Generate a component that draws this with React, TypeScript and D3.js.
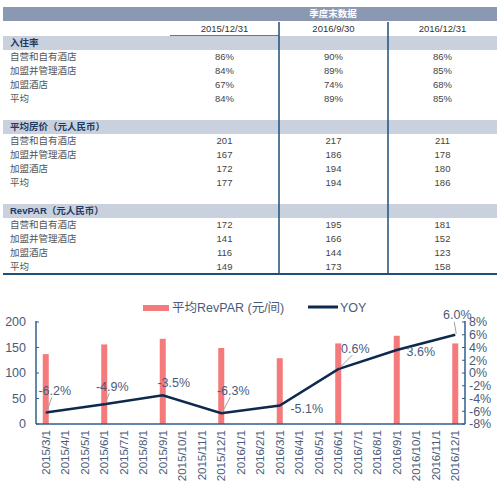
import { useEffect, useRef } from "react"
import * as d3 from "d3"

// table data
const columns = ["2015/12/31", "2016/9/30", "2016/12/31"]
const rowLabels = ["自营和自有酒店", "加盟并管理酒店", "加盟酒店", "平均"]
const occupancy = ["86%", "90%", "86%", "84%", "89%", "85%", "67%", "74%", "68%", "84%", "89%", "85%"]
const adr = [201, 217, 211, 167, 186, 178, 172, 194, 180, 177, 194, 186]
const revpar = [172, 195, 181, 141, 166, 152, 116, 144, 123, 149, 173, 158]
const sections = ["入住率", "平均房价（元人民币）", "RevPAR（元人民币）"]

// chart data
const months = [
  "2015/3/1", "2015/4/1", "2015/5/1", "2015/6/1", "2015/7/1", "2015/8/1", "2015/9/1",
  "2015/10/1", "2015/11/1", "2015/12/1", "2016/1/1", "2016/2/1", "2016/3/1", "2016/4/1",
  "2016/5/1", "2016/6/1", "2016/7/1", "2016/8/1", "2016/9/1", "2016/10/1", "2016/11/1", "2016/12/1",
]
const quarters = ["2015/3/1", "2015/6/1", "2015/9/1", "2015/12/1", "2016/3/1", "2016/6/1", "2016/9/1", "2016/12/1"]
const revparAvg = [137, 156, 167, 149, 129, 158, 173, 158]
const yoy = [-6.2, -4.9, -3.5, -6.3, -5.1, 0.6, 3.6, 6.0]
const leftTicks = [0, 50, 100, 150, 200]
const rightTicks = [-8, -6, -4, -2, 0, 2, 4, 6, 8]

const FONT = "'Liberation Sans', Arial, 'Noto Sans CJK SC', sans-serif"
const NAVY = "#1f4e79"
const LABEL = "#4a5b7a"

export default function App() {
  const svgRef = useRef<SVGSVGElement>(null)

  useEffect(() => {
    if (!svgRef.current) return
    const svg = d3.select(svgRef.current)
    svg.selectAll("*").remove()

    // ---------- table ----------
    const t = svg.append("g").attr("font-family", FONT)
    const left = 3
    const right = 497
    const rowH = 14
    const colX = d3.scaleBand<string>().domain(columns).range([170, right])

    t.append("rect").attr("x", left).attr("y", 7).attr("width", right - left).attr("height", 14).attr("fill", "#8a99b1")
    t.append("text")
      .attr("x", 333)
      .attr("y", 14)
      .attr("dy", "0.35em")
      .attr("text-anchor", "middle")
      .attr("fill", "#fff")
      .attr("font-weight", "bold")
      .attr("font-size", 9.5)
      .text("季度末数据")

    columns.forEach((c) => {
      t.append("text")
        .attr("x", colX(c)! + colX.bandwidth() / 2)
        .attr("y", 29)
        .attr("dy", "0.35em")
        .attr("text-anchor", "middle")
        .attr("fill", "#333")
        .attr("font-size", 9.5)
        .text(c)
    })
    t.append("line").attr("x1", 170).attr("x2", colX(columns[1])!).attr("y1", 36).attr("y2", 36).attr("stroke", NAVY).attr("stroke-width", 1.5)

    const blocks = [occupancy, adr, revpar]
    blocks.forEach((vals, s) => {
      const top = 36 + s * 6 * rowH
      t.append("rect").attr("x", left).attr("y", top).attr("width", right - left).attr("height", rowH).attr("fill", "#c8d1dd")
      t.append("text")
        .attr("x", 10)
        .attr("y", top + rowH / 2)
        .attr("dy", "0.35em")
        .attr("fill", "#1f3864")
        .attr("font-weight", "bold")
        .attr("font-size", 9.5)
        .text(sections[s])
      rowLabels.forEach((r, i) => {
        const cy = top + rowH * (i + 1) + rowH / 2
        t.append("text")
          .attr("x", 10)
          .attr("y", cy)
          .attr("dy", "0.35em")
          .attr("fill", "#555")
          .attr("font-size", 9.5)
          .text(r)
        columns.forEach((c, j) => {
          t.append("text")
            .attr("x", colX(c)! + colX.bandwidth() / 2)
            .attr("y", cy)
            .attr("dy", "0.35em")
            .attr("text-anchor", "middle")
            .attr("fill", "#444")
            .attr("font-size", 9.5)
            .text(String(vals[i * 3 + j]))
        })
      })
    })
    const tableBottom = 36 + 17 * rowH
    ;[columns[1], columns[2]].forEach((c) => {
      t.append("line")
        .attr("x1", colX(c)!)
        .attr("x2", colX(c)!)
        .attr("y1", 22)
        .attr("y2", tableBottom)
        .attr("stroke", NAVY)
        .attr("stroke-width", 1.5)
    })
    t.append("line").attr("x1", left).attr("x2", right).attr("y1", tableBottom).attr("y2", tableBottom).attr("stroke", NAVY).attr("stroke-width", 2)

    // ---------- chart ----------
    const g = svg.append("g").attr("font-family", FONT)
    const x = d3.scaleBand<string>().domain(months).range([36, 465])
    const yL = d3.scaleLinear().domain([0, 200]).range([424, 322])
    const yR = d3.scaleLinear().domain([-8, 8]).range([424, 322])
    const cx = (m: string) => x(m)! + x.bandwidth() / 2

    // bars
    g.selectAll("rect.bar")
      .data(quarters)
      .enter()
      .append("rect")
      .attr("class", "bar")
      .attr("x", (d) => cx(d) - 3)
      .attr("width", 6)
      .attr("y", (d, i) => yL(revparAvg[i]))
      .attr("height", (d, i) => yL(0) - yL(revparAvg[i]))
      .attr("fill", "#f47a7b")

    // axes
    const axisColor = "#2f5f8f"
    g.append("line").attr("x1", 36).attr("x2", 36).attr("y1", 321).attr("y2", 424).attr("stroke", axisColor).attr("stroke-width", 1.5)
    g.append("line").attr("x1", 465).attr("x2", 465).attr("y1", 321).attr("y2", 424).attr("stroke", axisColor).attr("stroke-width", 1.5)
    g.append("line").attr("x1", 36).attr("x2", 465).attr("y1", 424).attr("y2", 424).attr("stroke", axisColor).attr("stroke-width", 1.5)

    leftTicks.forEach((v) => {
      g.append("line").attr("x1", 36).attr("x2", 39).attr("y1", yL(v)).attr("y2", yL(v)).attr("stroke", axisColor)
      g.append("text")
        .attr("x", 26)
        .attr("y", yL(v))
        .attr("dy", "0.35em")
        .attr("text-anchor", "end")
        .attr("fill", LABEL)
        .attr("font-size", 12.5)
        .text(v)
    })
    rightTicks.forEach((v) => {
      g.append("line").attr("x1", 462).attr("x2", 465).attr("y1", yR(v)).attr("y2", yR(v)).attr("stroke", axisColor)
      g.append("text")
        .attr("x", 469)
        .attr("y", yR(v))
        .attr("dy", "0.35em")
        .attr("fill", LABEL)
        .attr("font-size", 12.5)
        .text(`${v}%`)
    })
    months.forEach((m) => {
      g.append("text")
        .attr("transform", `translate(${cx(m) + 4},430) rotate(-90)`)
        .attr("text-anchor", "end")
        .attr("fill", LABEL)
        .attr("font-size", 11.5)
        .text(m)
    })

    // YOY line
    const pts = quarters.map((q, i) => [cx(q), yR(yoy[i])] as [number, number])
    g.append("path")
      .datum(pts)
      .attr("fill", "none")
      .attr("stroke", "#0d2a4d")
      .attr("stroke-width", 2.5)
      .attr("d", d3.line())

    // data labels: offset from point and whether a leader line is drawn
    const labelPos = [
      { dx: 9, dy: -22, leader: true },
      { dx: 8, dy: -18, leader: true },
      { dx: 11, dy: -13, leader: false },
      { dx: 12, dy: -23, leader: true },
      { dx: 27, dy: 3, leader: false },
      { dx: 17, dy: -21, leader: true },
      { dx: 24, dy: 2, leader: false },
      { dx: 2, dy: -20, leader: true },
    ]
    pts.forEach(([px, py], i) => {
      const lp = labelPos[i]
      if (lp.leader) {
        g.append("line")
          .attr("x1", px + 1)
          .attr("y1", py - 1)
          .attr("x2", px + lp.dx - 3)
          .attr("y2", py + lp.dy + 7)
          .attr("stroke", "#a0a0a0")
          .attr("stroke-width", 1)
      }
      g.append("text")
        .attr("x", px + lp.dx)
        .attr("y", py + lp.dy)
        .attr("dy", "0.35em")
        .attr("text-anchor", "middle")
        .attr("fill", LABEL)
        .attr("font-size", 12.5)
        .text(`${yoy[i].toFixed(1)}%`)
    })

    // legend
    g.append("rect").attr("x", 143).attr("y", 305).attr("width", 26).attr("height", 6).attr("fill", "#f47a7b")
    g.append("text").attr("x", 172).attr("y", 308).attr("dy", "0.35em").attr("fill", LABEL).attr("font-size", 12.5).text("平均RevPAR (元/间)")
    g.append("line").attr("x1", 308).attr("x2", 338).attr("y1", 307).attr("y2", 307).attr("stroke", "#0d2a4d").attr("stroke-width", 3)
    g.append("text").attr("x", 340).attr("y", 308).attr("dy", "0.35em").attr("fill", LABEL).attr("font-size", 12.5).text("YOY")
  }, [])

  return (
    <svg
      ref={svgRef}
      width={500}
      height={483}
      style={{ position: "absolute", left: 0, top: 0, background: "#fff" }}
    />
  )
}
